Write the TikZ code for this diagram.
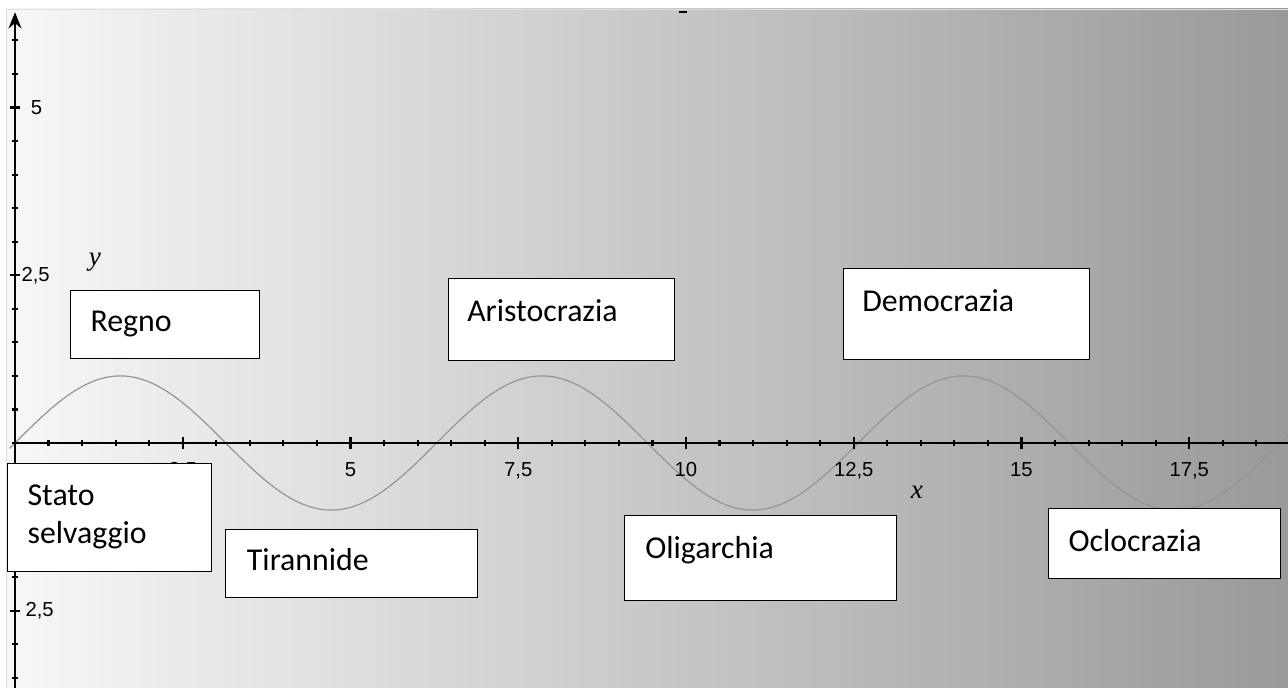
\documentclass[tikz,border=0pt]{standalone}
\usepackage{fontspec}
\usepackage{tikz}
\usetikzlibrary{arrows.meta,positioning,calc}
\newfontfamily\boxfont{Carlito}
\newfontfamily\axisfont{Liberation Sans}
\newfontfamily\varfont{Liberation Serif}

\tikzset{
  govbox/.style={draw=black, line width=0.6pt, fill=white, anchor=north west, inner sep=0pt},
  govtext/.style={inner sep=0pt, align=left, font=\boxfont\fontsize{13.5}{16.1}\selectfont},
  ticklabel/.style={inner sep=0pt, font=\axisfont\fontsize{8.6}{10}\selectfont},
  axisname/.style={inner sep=0pt, font=\varfont\itshape\fontsize{11.5}{13}\selectfont}
}

\begin{document}
\begin{tikzpicture}
        \useasboundingbox (-0.2236,-3.651) rectangle (18.972,6.602);
        % Background
        \fill[white] (-0.2236,-3.651) rectangle (18.972,6.602);
        \shadedraw[left color=gray!6, right color=black!40, draw=gray!25] (-0.134,-3.7) rectangle (19.1,6.468);
        \draw[line width=1.1pt] (9.896,6.423) -- (10.015,6.423);
        % Sine
        \draw[black!42, line width=0.5pt, domain=-0.08:19, samples=220, smooth] plot (\x, {sin(\x r)});
        % Axes
        \coordinate (xstart) at (-0.05,0);
        \coordinate (xend) at (19.0,0);
        \coordinate (ybot) at (0,-3.7);
        \coordinate (ytop) at (0,6.42);
        \draw[line width=1pt] (xstart) -- (xend);
        \draw[line width=1pt, -{Stealth[length=0.24cm, width=0.19cm]}] (ybot) -- (ytop);
        \foreach \i in {1,...,37} \draw[line width=0.9pt] (\i*0.5,-0.045) -- (\i*0.5,0.045);
        \foreach \i in {1,...,7} \draw[line width=0.9pt] (\i*2.5,-0.09) -- (\i*2.5,0.09);
        \foreach \i in {-7,...,12} \draw[line width=0.9pt] (-0.052,\i*0.5) -- (0.052,\i*0.5);
        \foreach \i in {-1,1,2} \draw[line width=0.9pt] (-0.075,\i*2.5) -- (0.075,\i*2.5);
        % Tick labels
        \foreach \v/\t [count=\k] in {2.5/{2,5}, 5/5, 7.5/{7,5}, 10/10, 12.5/{12,5}, 15/15, 17.5/{17,5}}
          \node[ticklabel, anchor=north] (xl\k) at (\v,-0.28) {\t};
        \node[ticklabel, anchor=west] (yl5) at (0.23,5) {5};
        \node[ticklabel, anchor=west] (yl25) at (0.09,2.5) {2,5};
        \node[ticklabel, anchor=west] (ylm25) at (0.15,-2.5) {2,5};
        \node[axisname] (yname) at (1.19,2.70) {y};
        \node[axisname] (xname) at (13.44,-0.74) {x};
        % Boxes
        \node[govbox, minimum width=2.817cm, minimum height=1.013cm] (regno) at (0.820,2.280) {};
        \node[govtext, below right=0.31cm and 0.30cm of regno.north west] (regnotxt) {Regno};
        \node[govbox, minimum width=3.368cm, minimum height=1.222cm] (aristo) at (6.453,2.459) {};
        \node[govtext, below right=0.31cm and 0.28cm of aristo.north west] (aristotxt) {Aristocrazia};
        \node[govbox, minimum width=3.666cm, minimum height=1.356cm] (democ) at (12.340,2.608) {};
        \node[govtext, below right=0.31cm and 0.28cm of democ.north west] (democtxt) {Democrazia};
        \node[govbox, minimum width=3.040cm, minimum height=1.610cm] (stato) at (-0.119,-0.298) {};
        \node[govtext, below right=0.32cm and 0.30cm of stato.north west] (statotxt) {Stato\\selvaggio};
        \node[govbox, minimum width=3.756cm, minimum height=1.013cm] (tiran) at (3.130,-1.282) {};
        \node[govtext, below right=0.28cm and 0.32cm of tiran.north west] (tirantxt) {Tirannide};
        \node[govbox, minimum width=4.054cm, minimum height=1.267cm] (oligar) at (9.076,-1.073) {};
        \node[govtext, below right=0.31cm and 0.31cm of oligar.north west] (oligartxt) {Oligarchia};
        \node[govbox, minimum width=3.458cm, minimum height=1.043cm] (ocloc) at (15.395,-0.969) {};
        \node[govtext, below right=0.31cm and 0.30cm of ocloc.north west] (ocloctxt) {Oclocrazia};
      \end{tikzpicture}
\end{document}
